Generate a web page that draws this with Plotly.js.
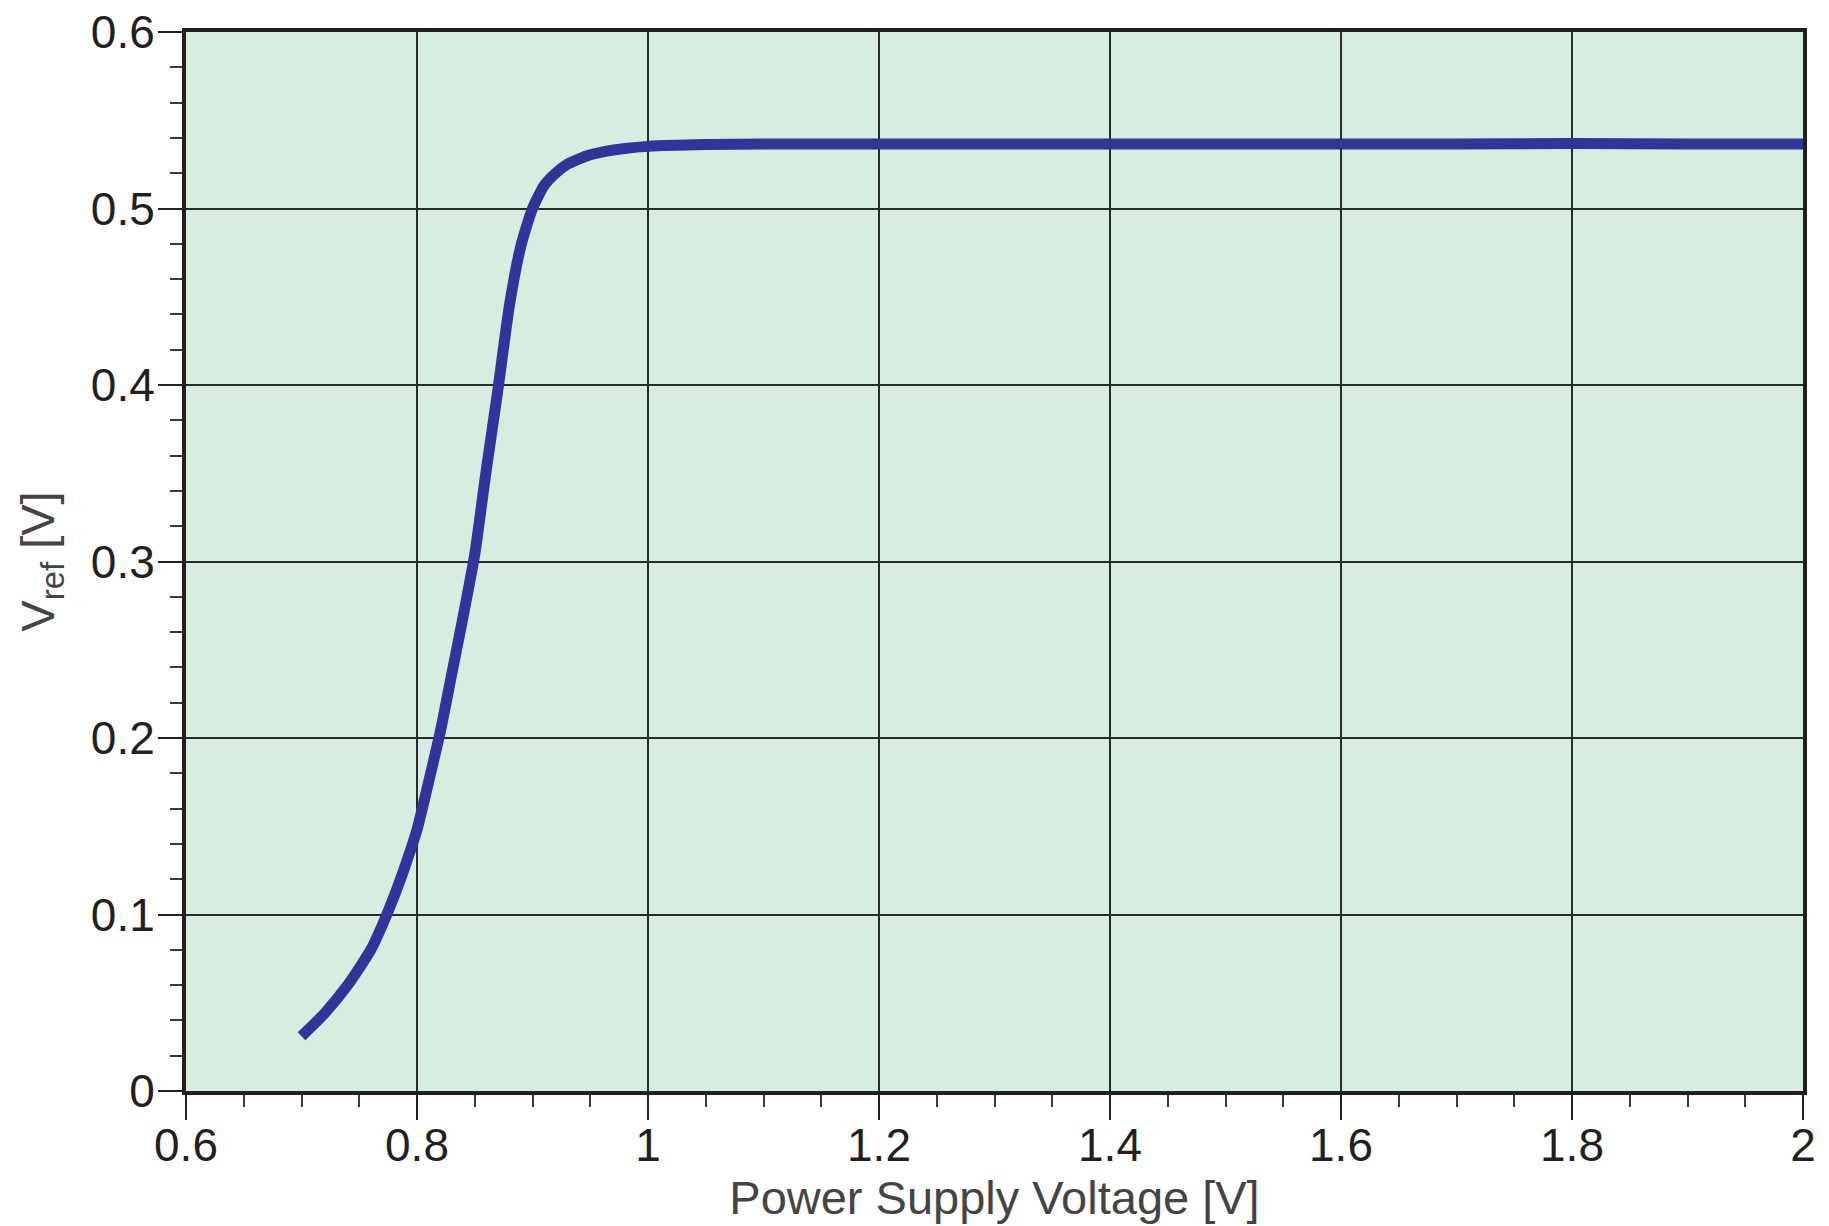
<!DOCTYPE html>
<html>
<head>
<meta charset="utf-8">
<script src="https://cdn.plot.ly/plotly-3.0.1.min.js"></script>
<style>html,body{margin:0;padding:0;background:#fff;}#chart{width:1829px;height:1226px;}</style>
</head>
<body>
<div id="chart"></div>
<script>
// Power supply voltage [V]
const supplyVoltage = [0.70, 0.72, 0.74, 0.76, 0.77, 0.78, 0.79, 0.80, 0.81, 0.82, 0.83, 0.84, 0.85, 0.86, 0.87, 0.88, 0.89, 0.90, 0.91, 0.92, 0.93, 0.94, 0.95, 0.96, 0.98, 1.00, 1.05, 1.10, 1.20, 1.30, 1.40, 1.50, 1.60, 1.70, 1.80, 1.90, 2.00];
// Reference voltage Vref [V]
const vref = [0.031, 0.044, 0.060, 0.080, 0.094, 0.110, 0.128, 0.148, 0.175, 0.203, 0.236, 0.269, 0.304, 0.352, 0.397, 0.445, 0.479, 0.500, 0.513, 0.520, 0.525, 0.528, 0.5304, 0.532, 0.534, 0.5352, 0.5362, 0.5365, 0.5365, 0.5365, 0.5365, 0.5365, 0.5365, 0.5366, 0.5368, 0.5366, 0.5365];

const xTickVals = [0.6, 0.8, 1.0, 1.2, 1.4, 1.6, 1.8, 2.0];
const xTickText = ["0.6", "0.8", "1", "1.2", "1.4", "1.6", "1.8", "2"];
const yTickVals = [0, 0.1, 0.2, 0.3, 0.4, 0.5, 0.6];
const yTickText = ["0", "0.1", "0.2", "0.3", "0.4", "0.5", "0.6"];

const fontFam = '"Liberation Sans", Arial, sans-serif';

const trace = {
  x: supplyVoltage,
  y: vref,
  type: 'scatter',
  mode: 'lines',
  line: {color: '#333399', width: 11, shape: 'spline', smoothing: 0.6},
  hoverinfo: 'x+y'
};

const layout = {
  width: 1829,
  height: 1226,
  margin: {l: 186, r: 26, t: 32, b: 135},
  paper_bgcolor: '#ffffff',
  plot_bgcolor: '#d8ecdf',
  showlegend: false,
  font: {family: fontFam, color: '#231f20', size: 46},
  xaxis: {
    range: [0.6, 2.0],
    tickmode: 'array',
    tickvals: xTickVals,
    ticktext: xTickText,
    ticks: 'outside',
    ticklen: 25,
    tickwidth: 2,
    tickcolor: '#231f20',
    tickfont: {size: 46, color: '#231f20', family: fontFam},
    ticklabelstandoff: -14,
    showline: true,
    linewidth: 4,
    linecolor: '#231f20',
    mirror: true,
    showgrid: true,
    gridcolor: '#2a2a2a',
    gridwidth: 2,
    zeroline: false,
    minor: {dtick: 0.05, ticks: 'outside', ticklen: 12, tickwidth: 2, tickcolor: '#3a3a3a', showgrid: false},
    title: {text: 'Power Supply Voltage [V]', font: {size: 47, color: '#444444', family: fontFam}, standoff: 10},
    automargin: false
  },
  yaxis: {
    range: [0, 0.6],
    tickmode: 'array',
    tickvals: yTickVals,
    ticktext: yTickText,
    ticks: 'outside',
    ticklen: 24,
    tickwidth: 2,
    tickcolor: '#231f20',
    tickfont: {size: 46, color: '#231f20', family: fontFam},
    ticklabelstandoff: -6,
    showline: true,
    linewidth: 4,
    linecolor: '#231f20',
    mirror: true,
    showgrid: true,
    gridcolor: '#2a2a2a',
    gridwidth: 2,
    zeroline: false,
    minor: {dtick: 0.02, ticks: 'outside', ticklen: 12, tickwidth: 2, tickcolor: '#3a3a3a', showgrid: false},
    title: {text: 'V<sub>ref</sub> [V]', font: {size: 47, color: '#444444', family: fontFam}, standoff: 22},
    automargin: false
  }
};

Plotly.newPlot('chart', [trace], layout, {displayModeBar: false, staticPlot: true});
</script>
</body>
</html>
